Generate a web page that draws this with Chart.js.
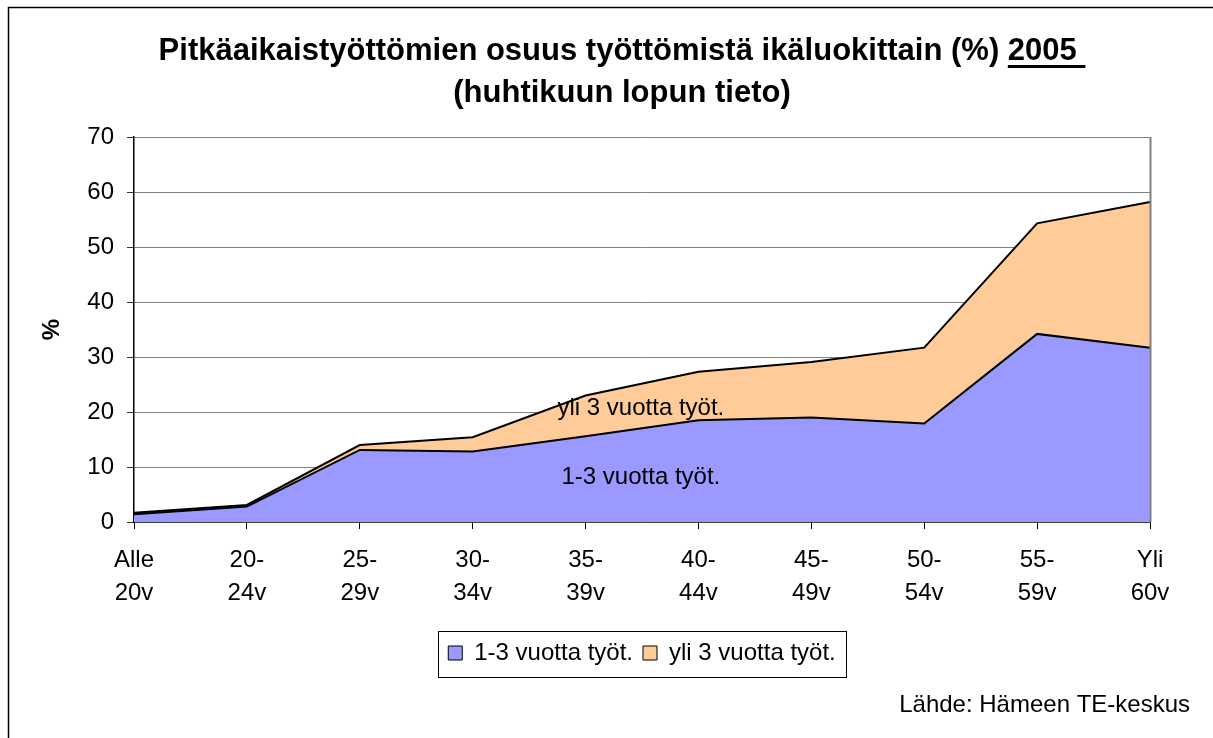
<!DOCTYPE html>
<html>
<head>
<meta charset="utf-8">
<script src="https://cdn.jsdelivr.net/npm/chart.js@4.4.1/dist/chart.umd.min.js"></script>
<style>
  body { margin: 0; background: #fff; }
  #wrap { width: 1213px; height: 738px; position: relative; }
</style>
</head>
<body>
<div id="wrap"><canvas id="ageChart"></canvas></div>
<script>
const ageGroups = [["Alle", "20v"], ["20-", "24v"], ["25-", "29v"], ["30-", "34v"], ["35-", "39v"],
    ["40-", "44v"], ["45-", "49v"], ["50-", "54v"], ["55-", "59v"], ["Yli", "60v"]];
const oneToThreeYears = [1.4, 2.8, 13.1, 12.8, 15.6, 18.5, 19.0, 17.9, 34.2, 31.7];
const overThreeYears = [0.3, 0.3, 0.9, 2.6, 7.4, 8.8, 10.1, 13.8, 20.1, 26.5];
const seriesNames = ["1-3 vuotta työt.", "yli 3 vuotta työt."];
const titleLines = ["Pitkäaikaistyöttömien osuus työttömistä ikäluokittain (%) 2005 ", "(huhtikuun lopun tieto)"];
const underlinedPart = "2005 ";
const sourceText = "Lähde: Hämeen TE-keskus";

const FONT = "Arial, 'Liberation Sans', sans-serif";
Chart.defaults.font.family = FONT;
Chart.defaults.color = "#000";

// labels drawn inside the areas, placed in data units
const areaLabels = [
    { text: seriesNames[1], x: 4.49, y: 20.7 },
    { text: seriesNames[0], x: 4.49, y: 8.2 },
];

const decorations = {
    id: "decorations",
    afterLayout(chart) {
        // title sits a bit left of the plot centre, as in the original
        const tb = chart.titleBlock;
        tb.left = 2 * 622 - tb.right;
    },
    beforeDraw(chart) {
        const ctx = chart.ctx;
        ctx.save();
        ctx.fillStyle = "#fff";
        ctx.fillRect(0, 0, chart.width, chart.height);
        ctx.strokeStyle = "#000";
        ctx.lineWidth = 1.5;
        ctx.strokeRect(8.5, 7.5, chart.width + 20, chart.height + 20);
        ctx.restore();
    },
    afterDraw(chart) {
        const ctx = chart.ctx;
        const area = chart.chartArea;
        const x = chart.scales.x, y = chart.scales.y;
        ctx.save();

        // right edge of plot area
        ctx.strokeStyle = "#808080";
        ctx.lineWidth = 2;
        ctx.beginPath();
        ctx.moveTo(area.right + 0.5, area.top);
        ctx.lineTo(area.right + 0.5, area.bottom);
        ctx.stroke();

        // area labels
        ctx.fillStyle = "#000";
        ctx.font = "24px " + FONT;
        ctx.textAlign = "center";
        ctx.textBaseline = "middle";
        areaLabels.forEach(l => {
            ctx.fillText(l.text, x.getPixelForValue(l.x), y.getPixelForValue(l.y));
        });

        // source
        ctx.textAlign = "right";
        ctx.fillText(sourceText, chart.width - 23, 705);

        // legend frame
        const lg = chart.legend;
        if (lg && lg.legendHitBoxes.length) {
            const boxes = lg.legendHitBoxes;
            const left = boxes[0].left - 10;
            const right = boxes[boxes.length - 1].left + boxes[boxes.length - 1].width + 10;
            const mid = boxes[0].top + boxes[0].height / 2;
            ctx.strokeStyle = "#000";
            ctx.lineWidth = 1;
            ctx.strokeRect(Math.round(left) + 0.5, Math.round(mid - 22) + 0.5, Math.round(right - left), 46);
        }

        // underline under the year in the title
        const tb = chart.titleBlock;
        const topts = chart.options.plugins.title;
        ctx.font = "bold " + topts.font.size + "px " + FONT;
        const full = ctx.measureText(titleLines[0]).width;
        const before = ctx.measureText(titleLines[0].slice(0, titleLines[0].length - underlinedPart.length)).width;
        const cx = (tb.left + tb.right) / 2;
        const lineY = tb.top + topts.padding.top + 21;
        ctx.fillRect(cx - full / 2 + before, lineY + 14, full - before, 3);
        ctx.restore();
    }
};

new Chart(document.getElementById("ageChart"), {
    type: "line",
    data: {
        labels: ageGroups,
        datasets: [
            {
                label: seriesNames[0],
                data: oneToThreeYears,
                backgroundColor: "#9999ff",
                borderColor: "#000",
                borderWidth: 2,
                fill: "origin",
                pointRadius: 0,
                tension: 0,
            },
            {
                label: seriesNames[1],
                data: overThreeYears,
                backgroundColor: "#ffcc99",
                borderColor: "#000",
                borderWidth: 2,
                fill: "-1",
                pointRadius: 0,
                tension: 0,
            },
        ],
    },
    options: {
        responsive: true,
        maintainAspectRatio: false,
        animation: false,
        layout: { padding: { left: 0, right: 63, top: 0, bottom: 63 } },
        plugins: {
            tooltip: { enabled: false },
            title: {
                display: true,
                text: titleLines,
                color: "#000",
                font: { size: 31, weight: "bold", lineHeight: 1.355 },
                padding: { top: 30, bottom: 23 },
            },
            legend: {
                position: "bottom",
                fullSize: false,
                labels: {
                    boxWidth: 14,
                    boxHeight: 14,
                    padding: 10,
                    color: "#000",
                    font: { size: 24 },
                    generateLabels(chart) {
                        return Chart.defaults.plugins.legend.labels.generateLabels(chart)
                            .map(l => Object.assign(l, { lineWidth: 1 }));
                    },
                },
            },
        },
        scales: {
            x: {
                offset: false,
                afterFit(s) { s.height = 109; },
                grid: { drawOnChartArea: false, color: "#000", tickLength: 7 },
                border: { color: "#000", width: 1.5 },
                ticks: {
                    autoSkip: false,
                    maxRotation: 0,
                    padding: 14.5,
                    font: { size: 24, lineHeight: 1.375 },
                },
            },
            y: {
                stacked: true,
                min: 0,
                max: 70,
                afterFit(s) { s.width = 134; },
                grid: { color: "#808080", tickColor: "#333", tickLength: 7 },
                border: { color: "#000", width: 1.5 },
                ticks: { stepSize: 10, padding: 13, font: { size: 24 } },
                title: {
                    display: true,
                    text: "%",
                    font: { size: 24, weight: "bold" },
                    padding: { top: 38, bottom: 0 },
                },
            },
        },
    },
    plugins: [decorations],
});
</script>
</body>
</html>
